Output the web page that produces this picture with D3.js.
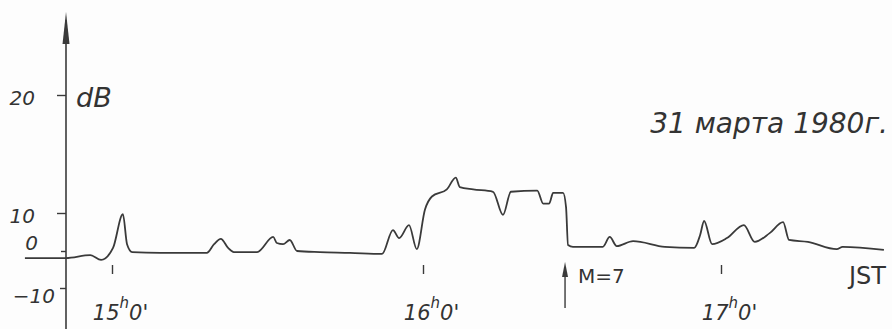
<!DOCTYPE html>
<html>
<head>
<meta charset="utf-8">
<script src="https://cdn.jsdelivr.net/npm/d3@7"></script>
<style>
  body { margin: 0; background: #fff; }
  text { fill: #333; }
</style>
</head>
<body>
<div id="container"></div>
<script>
// record: minutes after 15h0' JST and signal level in dB
var minutes = [-16.8, -8.9, -4.2, -2.1, 0.2, 2.1, 2.9, 3.9, 9.3, 18.3,
    19.7, 21.0, 22.4, 23.5, 28.0, 31.1, 31.8, 33.0, 34.3, 35.7,
    40.1, 45.9, 52.1, 54.2, 55.4, 57.3, 58.8, 60.4, 61.8, 64.8,
    66.6, 67.4, 70.1, 74.1, 76.1, 77.7, 83.0, 84.2, 85.4, 86.2,
    88.2, 88.8, 89.2, 90.2, 96.2, 97.6, 99.0, 102.3, 108.7, 114.6,
    115.8, 116.6, 118.2, 121.2, 124.6, 126.8, 129.8, 132.5, 133.7, 137.5,
    143.3, 144.5, 152.8];
var levels = [-1.9, -1.9, -1.1, -2.4, 0.8, 9.7, 1.8, -0.3, -0.5, -0.5,
    1.8, 3.2, 0.8, -0.3, -0.3, 3.7, 2.1, 1.8, 2.9, 0,
    -0.3, -0.5, -0.8, 5.5, 3.4, 6.8, 0.5, 10.3, 11.4, 12.0,
    13.0, 12.2, 12.0, 11.8, 9.5, 11.8, 11.9, 10.8, 10.8, 11.7,
    11.7, 10.5, 1.6, 1.1, 1.1, 3.7, 1.3, 2.6, 1.1, 0.8,
    4.2, 7.9, 1.8, 3.4, 6.8, 2.4, 4.7, 7.6, 2.9, 2.4,
    0.5, 1.1, 0.3];

var dbTicks = [-10, 0, 10, 20];
var hourTicks = [0, 60, 120];
var hourLabels = ['15', '16', '17'];
var dateLabel = '31 марта 1980г.';
var eventTime = 88.8;   // M=7 earthquake
var eventLabel = 'M=7';

var w = 892;
var h = 329;
var ink = '#3a3a3a';
var hand = "'DejaVu Sans', sans-serif";

var data = minutes.map(function(m, i) {
    return { t: m, db: levels[i] };
});

//time axis of the chart recorder is not quite even
var x = d3.scaleLinear()
    .domain([0, 60, 120])
    .range([112, 423, 721]);

//level axis is drawn with uneven spacing too
var y = d3.scaleLinear()
    .domain([-10, 0, 10, 20])
    .range([288, 251, 213, 95]);

var svg = d3.select('#container')
    .append('svg')
    .attr('width', w)
    .attr('height', h)
    .style('background', '#fdfdfd');

var axisX = 66;

//vertical axis with long thin arrow
svg.append('line')
    .attr('x1', axisX).attr('x2', axisX)
    .attr('y1', 20).attr('y2', h)
    .attr('stroke', ink)
    .attr('stroke-width', 1.6);

svg.append('path')
    .attr('d', 'M' + axisX + ',12 L' + (axisX + 3.5) + ',44 L' + (axisX - 3.5) + ',44 Z')
    .attr('fill', ink);

var yAxis = svg.append('g')
    .attr('transform', 'translate(' + axisX + ',0)')
    .call(d3.axisLeft(y).tickValues(dbTicks).tickSize(9).tickPadding(22));

yAxis.select('.domain').remove();
yAxis.selectAll('line').attr('stroke', ink).attr('stroke-width', 1.4);
yAxis.selectAll('line').filter(function(d) { return d === 0; }).attr('x2', -5);
yAxis.selectAll('line').filter(function(d) { return d < 0; }).attr('x2', -6);
yAxis.selectAll('text')
    .attr('dy', function(d) { return d === 0 ? '-0.1em' : d < 0 ? '0.7em' : '0.45em'; })
    .style('font-family', hand)
    .style('font-style', 'italic')
    .style('font-size', '20px')
    .attr('fill', '#333');
yAxis.selectAll('text').filter(function(d) { return d < 0; }).attr('x', -11);
yAxis.selectAll('text').filter(function(d) { return d === 0; }).attr('x', -28);

svg.append('text')
    .attr('x', 76)
    .attr('y', 107)
    .text('dB')
    .style('font-family', hand)
    .style('font-style', 'italic')
    .style('font-size', '27px');

//hour marks below the trace
var xAxis = svg.append('g')
    .attr('transform', 'translate(0,265)')
    .call(d3.axisBottom(x).tickValues(hourTicks).tickSize(9).tickFormat(''));

xAxis.select('.domain').remove();
xAxis.selectAll('line').attr('stroke', ink).attr('stroke-width', 1.4);

var hourText = xAxis.selectAll('.tick')
    .append('text')
    .attr('x', 8)
    .attr('y', 55)
    .attr('text-anchor', 'middle')
    .style('font-family', hand)
    .style('font-style', 'italic')
    .style('font-size', '21px')
    .attr('fill', '#333');

hourText.append('tspan').text(function(d, i) { return hourLabels[i]; });
hourText.append('tspan').attr('dy', -12).style('font-size', '15px').text('h');
hourText.append('tspan').attr('dy', 12).text("0'");

//recorded trace
var line = d3.line()
    .x(function(d) { return x(d.t); })
    .y(function(d) { return y(d.db); })
    .curve(d3.curveMonotoneX);

svg.append('path')
    .datum(data)
    .attr('fill', 'none')
    .attr('stroke', ink)
    .attr('stroke-width', 1.8)
    .attr('stroke-linejoin', 'round')
    .attr('d', line);

//earthquake marker
var ex = x(eventTime) - 1;
svg.append('line')
    .attr('x1', ex).attr('x2', ex)
    .attr('y1', 270).attr('y2', 308)
    .attr('stroke', ink)
    .attr('stroke-width', 1.4);

svg.append('path')
    .attr('d', 'M' + ex + ',262 L' + (ex + 3) + ',277 L' + (ex - 3) + ',277 Z')
    .attr('fill', ink);

svg.append('text')
    .attr('x', ex + 13)
    .attr('y', 283)
    .text(eventLabel)
    .style('font-family', hand)
    .style('font-size', '20px');

svg.append('text')
    .attr('x', 886)
    .attr('y', 284)
    .attr('text-anchor', 'end')
    .text('JST')
    .style('font-family', hand)
    .style('font-size', '24px');

svg.append('text')
    .attr('x', 888)
    .attr('y', 133)
    .attr('text-anchor', 'end')
    .text(dateLabel)
    .style('font-family', hand)
    .style('font-style', 'italic')
    .style('font-size', '28px');
</script>
</body>
</html>
